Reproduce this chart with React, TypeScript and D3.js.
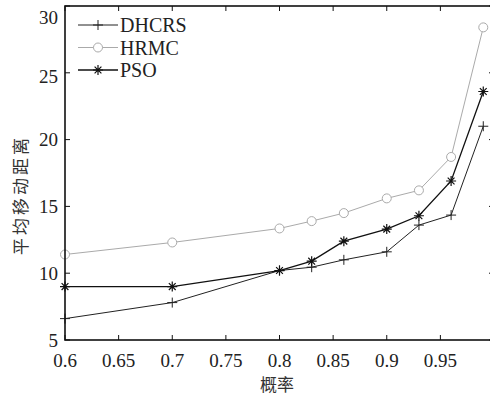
import React, { useEffect, useState } from "react";
import * as d3 from "d3";

const probs = [0.6, 0.7, 0.8, 0.83, 0.86, 0.9, 0.93, 0.96, 0.99];
const dhcrs = [6.6, 7.8, 10.2, 10.45, 11.0, 11.6, 13.6, 14.35, 21.0];
const hrmc = [11.4, 12.3, 13.35, 13.9, 14.5, 15.6, 16.2, 18.7, 28.4];
const pso = [9.0, 9.0, 10.2, 10.9, 12.4, 13.3, 14.3, 16.9, 23.6];
const xTicks = [0.6, 0.65, 0.7, 0.75, 0.8, 0.85, 0.9, 0.95, 1];
const yTicks = [5, 10, 15, 20, 25, 30];
const seriesNames = ["DHCRS", "HRMC", "PSO"];

const W = 490;
const H = 402;
const SERIF = "Liberation Serif, Times New Roman, serif";
const CJK = "Noto Sans CJK SC";

const x = d3.scaleLinear().domain([0.6, 1]).range([65, 494]);
const y = d3.scaleLinear().domain([5, 30]).range([340, 6]);

const series = [
  { name: seriesNames[0], values: dhcrs, color: "#222", width: 1, marker: "plus" },
  { name: seriesNames[1], values: hrmc, color: "#aaa", width: 1, marker: "circle" },
  { name: seriesNames[2], values: pso, color: "#111", width: 1.3, marker: "star" },
];

function Marker({ type, cx, cy, color }: { type: string; cx: number; cy: number; color: string }) {
  if (type === "plus") {
    return (
      <path d={`M${cx - 5},${cy}H${cx + 5}M${cx},${cy - 5}V${cy + 5}`} stroke={color} strokeWidth={1} fill="none" />
    );
  }
  if (type === "circle") {
    return <circle cx={cx} cy={cy} r={4.5} stroke={color} strokeWidth={1} fill="white" />;
  }
  const s = 5;
  const d = 3.4;
  return (
    <path
      d={`M${cx - s},${cy}H${cx + s}M${cx},${cy - s}V${cy + s}M${cx - d},${cy - d}L${cx + d},${cy + d}M${cx - d},${cy + d}L${cx + d},${cy - d}`}
      stroke={color}
      strokeWidth={1.2}
      fill="none"
    />
  );
}

export default function App() {
  const [k, setK] = useState(0);
  useEffect(() => {
    const fonts: any = (document as any).fonts;
    if (fonts && fonts.load) {
      Promise.all([
        fonts.load('19px "Liberation Serif"'),
        fonts.load('20px "Liberation Serif"'),
        fonts.load('17px "Noto Sans CJK SC"', "概率平均移动距离"),
      ])
        .then(() => setK(1))
        .catch(() => setK(1));
    }
  }, []);

  const [x0, x1] = x.range();
  const [y0, y1] = y.range();
  const tl = 5;
  const line = d3
    .line<number>()
    .x((_, i) => x(probs[i]))
    .y((v) => y(v));
  const fmt = d3.format("~g");

  return (
    <svg key={k} width={W} height={H} style={{ position: "absolute", left: 0, top: 0, background: "white" }}>
      {series.map((s) => (
        <g key={s.name}>
          <path d={line(s.values) || ""} fill="none" stroke={s.color} strokeWidth={s.width} />
          {s.values.map((v, i) => (
            <Marker key={i} type={s.marker} cx={x(probs[i])} cy={y(v)} color={s.color} />
          ))}
        </g>
      ))}

      <rect x={x0} y={y1} width={x1 - x0} height={y0 - y1} fill="none" stroke="#111" strokeWidth={1.6} />

      <g stroke="#111" strokeWidth={1}>
        {xTicks.map((t) => (
          <g key={"xt" + t}>
            <line x1={x(t)} x2={x(t)} y1={y0} y2={y0 - tl} />
            <line x1={x(t)} x2={x(t)} y1={y1} y2={y1 + tl} />
          </g>
        ))}
        {yTicks.map((t) => (
          <g key={"yt" + t}>
            <line x1={x0} x2={x0 + tl} y1={y(t)} y2={y(t)} />
            <line x1={x1} x2={x1 - tl} y1={y(t)} y2={y(t)} />
          </g>
        ))}
      </g>

      {xTicks.map((t) => (
        <text key={"xl" + t} x={x(t)} y={367} textAnchor="middle" fontFamily={SERIF} fontSize={19} fill="#222">
          {fmt(t)}
        </text>
      ))}
      {yTicks.map((t) => (
        <text
          key={"yl" + t}
          x={58}
          y={Math.max(y(t), 17) + (t === 25 ? 4 : 0)}
          dy="0.35em"
          textAnchor="end"
          fontFamily={SERIF}
          fontSize={19}
          fill="#222"
        >
          {t}
        </text>
      ))}

      <text x={277} y={391} textAnchor="middle" fontFamily={CJK} fontSize={17} fill="#333">
        概率
      </text>
      <text
        transform="translate(27,195) rotate(-90)"
        textAnchor="middle"
        fontFamily={CJK}
        fontSize={17}
        letterSpacing={3}
        fill="#333"
      >
        平均移动距离
      </text>

      {series.map((s, i) => {
        const ly = 25 + i * 22.5;
        return (
          <g key={"lg" + s.name}>
            <line x1={78} x2={118} y1={ly} y2={ly} stroke={s.color} strokeWidth={s.width} />
            <Marker type={s.marker} cx={98} cy={ly} color={s.color} />
            <text x={120} y={ly} dy="0.35em" fontFamily={SERIF} fontSize={20} fill="#222">
              {s.name}
            </text>
          </g>
        );
      })}
    </svg>
  );
}
